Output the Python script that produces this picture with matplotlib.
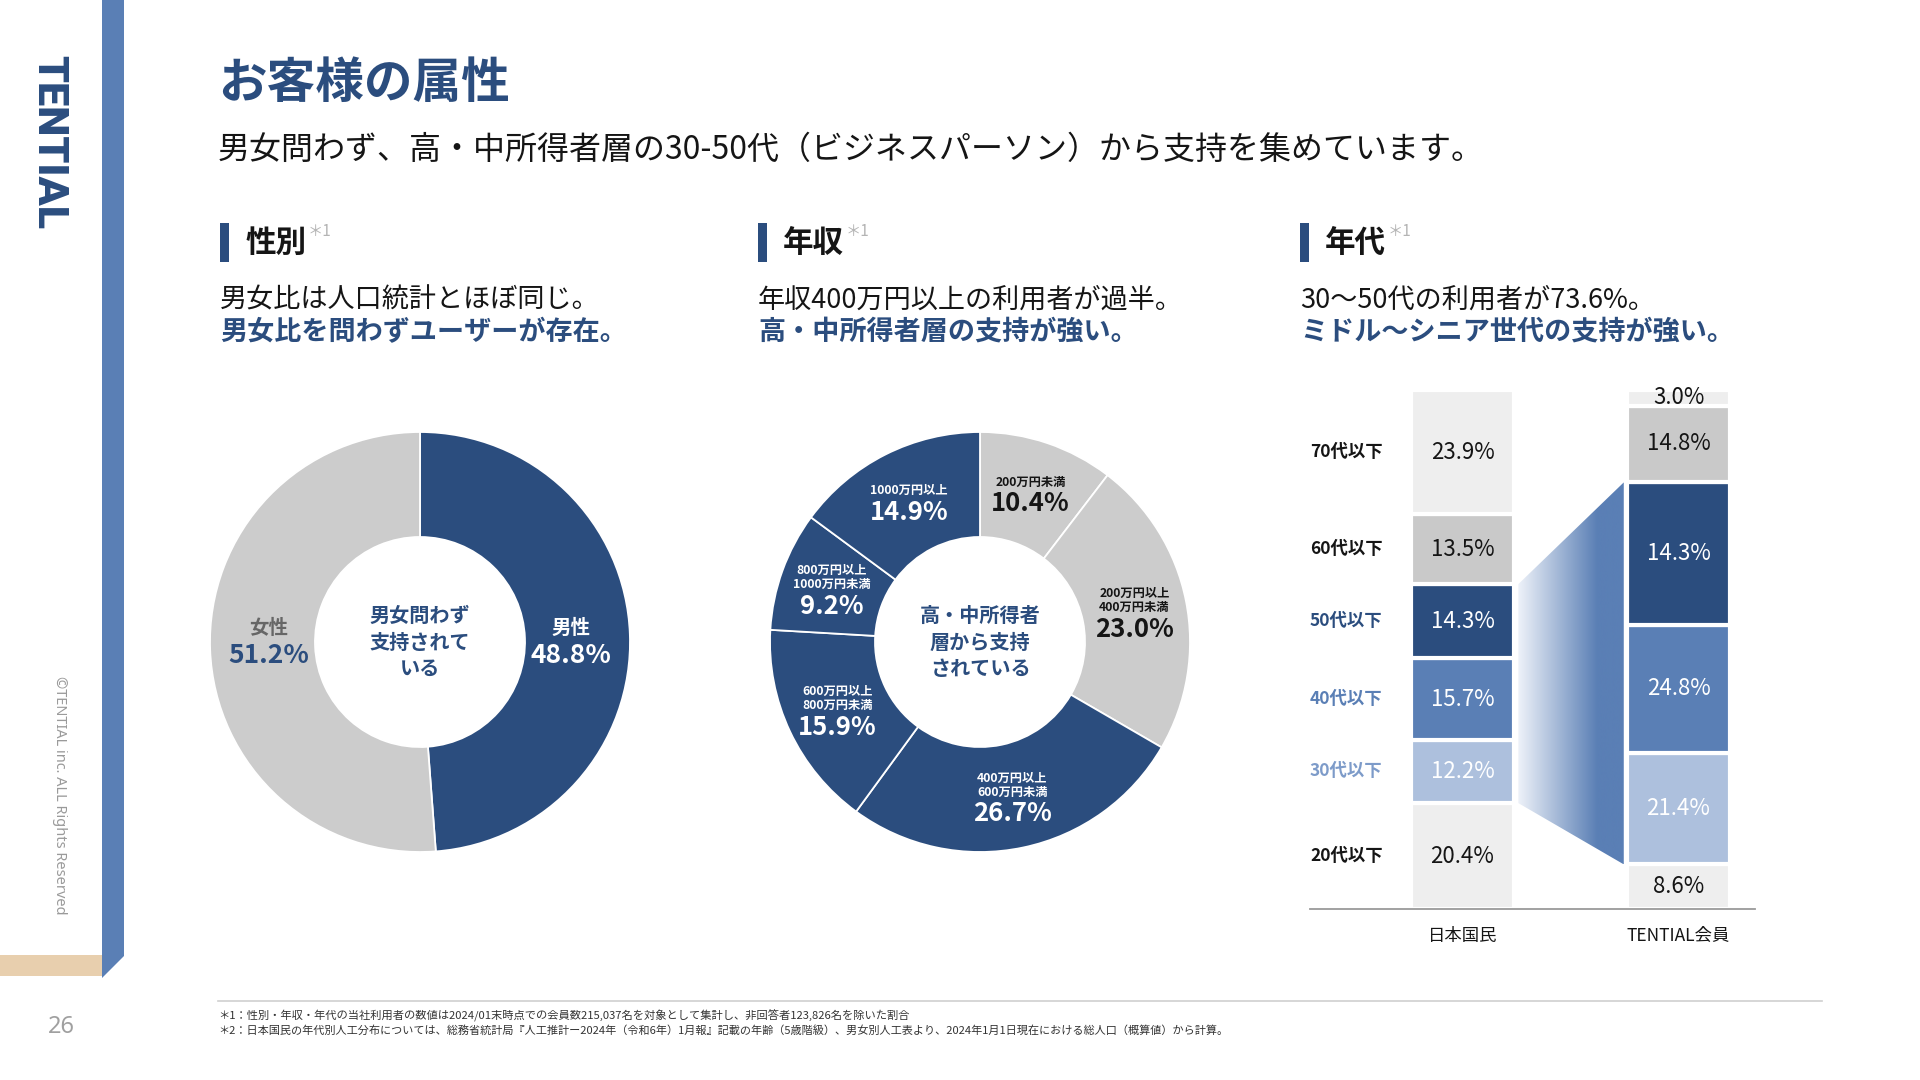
import numpy as np
import matplotlib.pyplot as plt
from matplotlib.patches import Polygon, Rectangle
from matplotlib.colors import LinearSegmentedColormap

plt.rcParams['font.family'] = ['Noto Sans CJK JP', 'DejaVu Sans']

NAVY = '#2b4d7e'
BLUE = '#5a7fb5'
LIGHT_BLUE = '#adc0dd'
GRAY = '#cccccc'
PALE = '#eeeeee'
INK = '#151515'

# --- data ---
gender_names = ['男性', '女性']
gender_values = [48.8, 51.2]

income_names = ['200万円未満', '200万円以上\n400万円未満', '400万円以上\n600万円未満',
                '600万円以上\n800万円未満', '800万円以上\n1000万円未満', '1000万円以上']
income_values = [10.4, 23.0, 26.7, 15.9, 9.2, 14.9]

age_names = ['20代以下', '30代以下', '40代以下', '50代以下', '60代以下', '70代以下']  # bottom -> top
japan_values = [20.4, 12.2, 15.7, 14.3, 13.5, 23.9]
tential_values = [8.6, 21.4, 24.8, 27.4, 14.8, 3.0]
tential_text = ['8.6%', '21.4%', '24.8%', '14.3%', '14.8%', '3.0%']  # as printed on the slide
bar_names = ['日本国民', 'TENTIAL会員']

W, H = 1920, 1080
fig = plt.figure(figsize=(W / 100, H / 100), dpi=100)

# background / page layout in pixel coords
bg = fig.add_axes([0, 0, 1, 1])
bg.set_xlim(0, W)
bg.set_ylim(H, 0)
bg.axis('off')

bg.add_patch(Polygon([(102, 0), (124, 0), (124, 956), (102, 978)], closed=True,
                     facecolor=BLUE, edgecolor='none'))
bg.add_patch(Rectangle((0, 955), 102, 21, facecolor='#e8cfae', edgecolor='none'))
bg.text(49, 142, 'TENTIAL', rotation=-90, ha='center', va='center', fontsize=31,
        fontweight='black', color=NAVY, family=['Roboto', 'DejaVu Sans'])
bg.text(59, 795, '©TENTIAL inc. ALL Rights Reserved', rotation=-90, ha='center', va='center',
        fontsize=10.5, color='#9a9a9a', family=['Noto Sans', 'DejaVu Sans'])
bg.text(61, 1027, '26', ha='center', va='center', fontsize=17, color='#a0a0a0',
        family=['Noto Sans', 'DejaVu Sans'])

bg.text(218, 83, 'お客様の属性', fontsize=35, fontweight='bold', color=NAVY, va='center')
bg.text(218, 150, '男女問わず、高・中所得者層の30-50代（ビジネスパーソン）から支持を集めています。',
        fontsize=23, color=INK, va='center')

sections = [
    (220, '性別', '男女比は人口統計とほぼ同じ。', '男女比を問わずユーザーが存在。'),
    (758, '年収', '年収400万円以上の利用者が過半。', '高・中所得者層の支持が強い。'),
    (1300, '年代', '30〜50代の利用者が73.6%。', 'ミドル〜シニア世代の支持が強い。'),
]
for x0, head, l1, l2 in sections:
    bg.add_patch(Rectangle((x0, 223), 9, 39, facecolor=NAVY, edgecolor='none'))
    t = bg.text(x0 + 25, 243, head, fontsize=22, fontweight='bold', color=INK, va='center')
    bg.annotate('＊1', xy=(1, 1), xycoords=t, xytext=(1, 3), textcoords='offset points',
                ha='left', va='top', fontsize=11, color='#b4b4b4')
    bg.text(x0, 300, l1, fontsize=19.5, color=INK, va='center')
    bg.text(x0, 332, l2, fontsize=19.5, fontweight='bold', color=NAVY, va='center')

bg.plot([218, 1822], [1001, 1001], color='#cfcfcf', lw=1.2)
bg.text(218, 1016, '＊1：性別・年収・年代の当社利用者の数値は2024/01末時点での会員数215,037名を対象として集計し、非回答者123,826名を除いた割合',
        fontsize=8.1, color='#333333', va='center')
bg.text(218, 1030, '＊2：日本国民の年代別人工分布については、総務省統計局『人工推計ー2024年（令和6年）1月報』記載の年齢（5歳階級）、男女別人工表より、2024年1月1日現在における総人口（概算値）から計算。',
        fontsize=8, color='#333333', va='center')


def donut_axes(cx, cy, r):
    ax = fig.add_axes([(cx - r) / W, 1 - (cy + r) / H, 2 * r / W, 2 * r / H])
    ax.set_facecolor('none')
    return ax


def draw_donut(ax, values, colors):
    wedges, _ = ax.pie(values, colors=colors, startangle=90, counterclock=False, radius=1,
                       wedgeprops=dict(width=0.5, edgecolor='white', linewidth=1.3))
    ax.set_xlim(-1, 1)
    ax.set_ylim(-1, 1)
    ax.set_aspect('equal')
    ax.axis('off')
    return wedges


def slice_label(ax, w, r, small, pct, c_small, c_pct, s_small, s_pct, gap_line, gap_pct, flat=False):
    ang = np.deg2rad((w.theta1 + w.theta2) / 2)
    x, y = r * np.cos(ang), r * np.sin(ang)
    if flat:
        y = 0
    lines = small.split('\n')
    h = (len(lines) - 1) * gap_line + gap_pct
    for i, line in enumerate(lines):
        ax.annotate(line, (x, y), xytext=(0, h / 2 - i * gap_line), textcoords='offset points',
                    ha='center', va='center', fontsize=s_small, fontweight='bold', color=c_small)
    ax.annotate(pct, (x, y), xytext=(0, -h / 2), textcoords='offset points',
                ha='center', va='center', fontsize=s_pct, fontweight='bold', color=c_pct)


# 性別 donut
ax1 = donut_axes(420, 642, 210)
w1 = draw_donut(ax1, gender_values, [NAVY, GRAY])
g_small_col = ['white', '#666666']
g_pct_col = ['white', NAVY]
for i, w in enumerate(w1):
    slice_label(ax1, w, 0.72, gender_names[i], f'{gender_values[i]:.1f}%',
                g_small_col[i], g_pct_col[i], 14, 19, 10, 19.5, flat=True)
ax1.text(0, 0, '男女問わず\n支持されて\nいる', ha='center', va='center', fontsize=14.5,
         fontweight='bold', color=NAVY, linespacing=1.3)

# 年収 donut
ax2 = donut_axes(980, 642, 210)
inc_colors = [GRAY, GRAY, NAVY, NAVY, NAVY, NAVY]
w2 = draw_donut(ax2, income_values, inc_colors)
for i, w in enumerate(w2):
    c = INK if inc_colors[i] == GRAY else 'white'
    slice_label(ax2, w, 0.75, income_names[i], f'{income_values[i]:.1f}%',
                c, c, 8.8, 18.5, 10.2, 15.5)
ax2.text(0, 0, '高・中所得者\n層から支持\nされている', ha='center', va='center', fontsize=14.5,
         fontweight='bold', color=NAVY, linespacing=1.3)

# 年代 stacked bars
axb = fig.add_axes([1310 / W, 1 - 909 / H, 445 / W, 519 / H])
axb.set_facecolor('none')
bw = 0.477
seg_colors = [PALE, LIGHT_BLUE, BLUE, NAVY, '#c9c9c9', PALE]
txt_colors = [INK, 'white', 'white', 'white', INK, INK]
row_colors = [INK, '#7d9bc9', BLUE, NAVY, INK, INK]

jp_bottom = np.concatenate([[0], np.cumsum(japan_values)[:-1]])
tt_bottom = np.concatenate([[0], np.cumsum(tential_values)[:-1]])
axb.bar([0] * 6, japan_values, bottom=jp_bottom, width=bw, color=seg_colors,
        edgecolor='white', linewidth=3, zorder=2)
axb.bar([1] * 6, tential_values, bottom=tt_bottom, width=bw, color=seg_colors,
        edgecolor='white', linewidth=3, zorder=2)

for i in range(6):
    axb.text(0, jp_bottom[i] + japan_values[i] / 2, f'{japan_values[i]:.1f}%', ha='center',
             va='center', fontsize=16, color=txt_colors[i], zorder=4)
    axb.text(1, tt_bottom[i] + tential_values[i] / 2, tential_text[i], ha='center',
             va='center', fontsize=16, color=txt_colors[i], zorder=4)
    axb.text(-0.706, jp_bottom[i] + japan_values[i] / 2, age_names[i], ha='left', va='center',
             fontsize=12.5, fontweight='bold', color=row_colors[i])

# gradient band linking 30-50代 blocks
x_l = bw / 2 + 0.02
x_r = 1 - bw / 2 - 0.015
jp_lo, jp_hi = jp_bottom[1], jp_bottom[3] + japan_values[3]
tt_lo, tt_hi = tt_bottom[1], tt_bottom[3] + tential_values[3]
band = Polygon([(x_l, jp_lo), (x_r, tt_lo), (x_r, tt_hi), (x_l, jp_hi)], closed=True,
               facecolor='none', edgecolor='none', transform=axb.transData)
axb.add_patch(band)
cmap = LinearSegmentedColormap.from_list('band', [(0, '#eef2f9'), (0.75, BLUE), (1, BLUE)])
grad = np.linspace(0, 1, 256).reshape(1, -1)
im = axb.imshow(grad, extent=(x_l, x_r, tt_lo, tt_hi), aspect='auto', cmap=cmap, zorder=1)
im.set_clip_path(band)

axb.set_xlim(-0.706, 1.354)
axb.set_ylim(0, 100)
for s in ['top', 'right', 'left']:
    axb.spines[s].set_visible(False)
axb.spines['bottom'].set_color('#9a9a9a')
axb.spines['bottom'].set_linewidth(1.3)
axb.spines['bottom'].set_zorder(5)
axb.set_yticks([])
axb.set_xticks([0, 1], bar_names)
axb.tick_params(axis='x', length=0, pad=13, labelsize=12.5, labelcolor=INK)

fig.savefig('out.png', dpi=100, facecolor='white')
